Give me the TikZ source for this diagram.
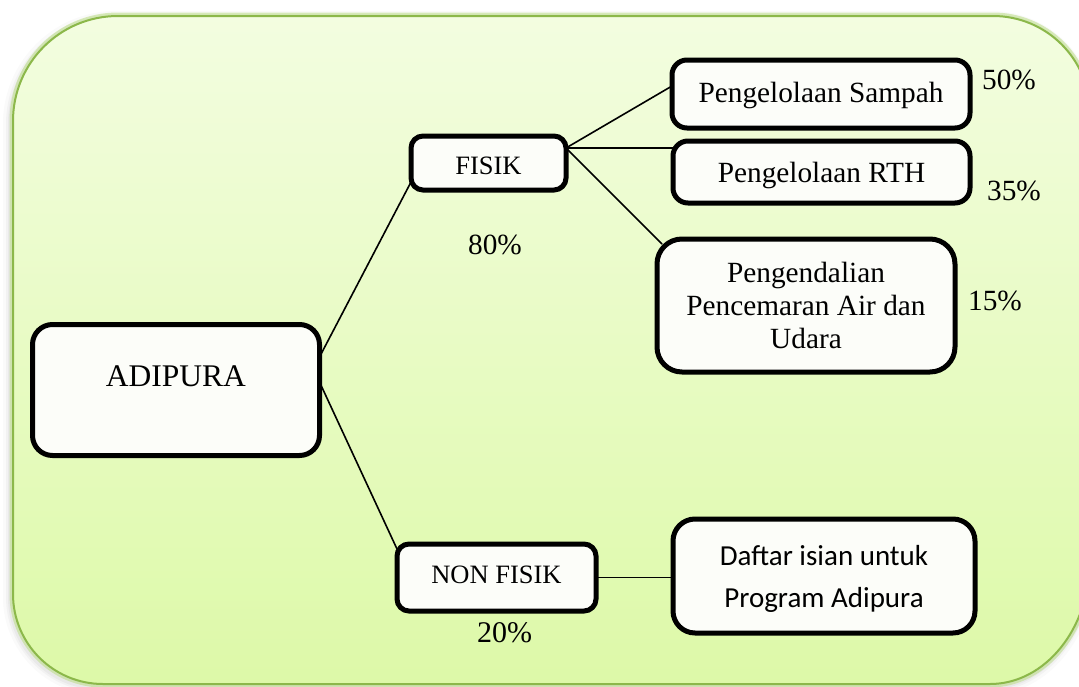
\documentclass[tikz,border=0pt]{standalone}
\usepackage{fontspec}
\setmainfont{Liberation Serif}
\newfontfamily\carlito{Carlito}
\definecolor{paneltop}{RGB}{243,253,224}
\definecolor{panelbot}{RGB}{221,249,168}
\definecolor{panelborder}{RGB}{140,184,74}
\definecolor{panelglow}{RGB}{190,222,140}
\definecolor{boxfill}{RGB}{252,253,249}
\def\panelpath{(13,121) .. controls (13,63) and (60,16) .. (118,16) -- (993,16)
  .. controls (1046.6,16) and (1090,59.4) .. (1090,113) -- (1090,560)
  .. controls (1090,628.5) and (1045.2,684) .. (990,684) -- (103,684)
  .. controls (53.3,684) and (13,643.7) .. (13,594) -- cycle}
\begin{document}
\begin{tikzpicture}[x=1pt,y=-1pt,
  kotak/.style={draw=black, line width=5pt, fill=boxfill, inner sep=0pt, outer sep=0pt, align=center},
  garis/.style={line width=1.6pt, draw=black},
  persen/.style={anchor=base, inner sep=0pt, font=\fontsize{29.3}{33}\selectfont}]
\useasboundingbox (0,0) rectangle (1079,686);
\fill[white] (0,0) rectangle (1079,686);
\clip (0,0) rectangle (1079,686);
% shadow and glow of the panel
\foreach \w/\o in {16/0.04,10/0.06,6/0.08}
  \draw[line width=\w pt, gray, opacity=\o, xshift=-2pt, yshift=-3pt] \panelpath;
\draw[line width=7pt, panelglow, opacity=0.6] \panelpath;
% panel
\fill[top color=paneltop, bottom color=panelbot] \panelpath;
\draw[line width=2pt, panelborder] \panelpath;

% boxes
\node[kotak, rounded corners=20pt, minimum width=287pt, minimum height=131pt,
      font=\fontsize{31.5}{36}\selectfont, text height=21pt, text depth=28.2pt]
      (adipura) at (176,390) {ADIPURA};
\node[kotak, rounded corners=12pt, minimum width=155pt, minimum height=54pt,
      font=\fontsize{26.5}{30}\selectfont, text height=23.6pt, text depth=0pt]
      (fisik) at (488.5,163) {FISIK};
\node[kotak, rounded corners=15pt, minimum width=298pt, minimum height=68pt,
      font=\fontsize{29.3}{33}\selectfont, text height=20pt, text depth=4pt]
      (sampah) at (821,94) {Pengelolaan Sampah};
\node[kotak, rounded corners=15pt, minimum width=297pt, minimum height=62pt,
      font=\fontsize{29.3}{33}\selectfont, text height=20pt, text depth=0pt]
      (rth) at (821.5,172) {Pengelolaan RTH};
\node[kotak, rounded corners=25pt, minimum width=298pt, minimum height=133pt,
      font=\fontsize{29.3}{33}\selectfont]
      (cemar) at (806,305.5) {Pengendalian\\Pencemaran Air dan\\Udara};
\node[kotak, rounded corners=12pt, minimum width=199pt, minimum height=67pt,
      font=\fontsize{26.5}{30}\selectfont, text height=18pt, text depth=5.5pt]
      (nonfisik) at (496.5,577.5) {NON FISIK};
\node[kotak, rounded corners=22pt, minimum width=302pt, minimum height=114pt,
      font=\carlito\fontsize{29}{42}\selectfont, text depth=0pt]
      (daftar) at (824,576) {Daftar isian untuk\\Program Adipura};

% percentages
\node[persen] (p50) at (1009,89) {50\%};
\node[persen] (p35) at (1014,200) {35\%};
\node[persen] (p15) at (995,310) {15\%};
\node[persen] (p80) at (495,254) {80\%};
\node[persen, font=\fontsize{30}{34}\selectfont] (p20) at (504.5,642) {20\%};

% connectors
\draw[garis] ([yshift=33pt]adipura.east) -- ([yshift=-19pt]fisik.west);
\draw[garis] ([yshift=8pt]adipura.east) -- ([yshift=28.5pt]nonfisik.west);
\draw[garis] ([yshift=15pt]fisik.east) -- ([yshift=8pt]sampah.west);
\draw[garis] ([yshift=15pt]fisik.east) -- ([yshift=15pt]fisik.east -| rth.west);
\draw[garis] ([yshift=15pt]fisik.east) -- ([xshift=5pt,yshift=-5pt]cemar.north west);
\draw[garis] (nonfisik.east) -- (nonfisik.east -| daftar.west);
\end{tikzpicture}
\end{document}
